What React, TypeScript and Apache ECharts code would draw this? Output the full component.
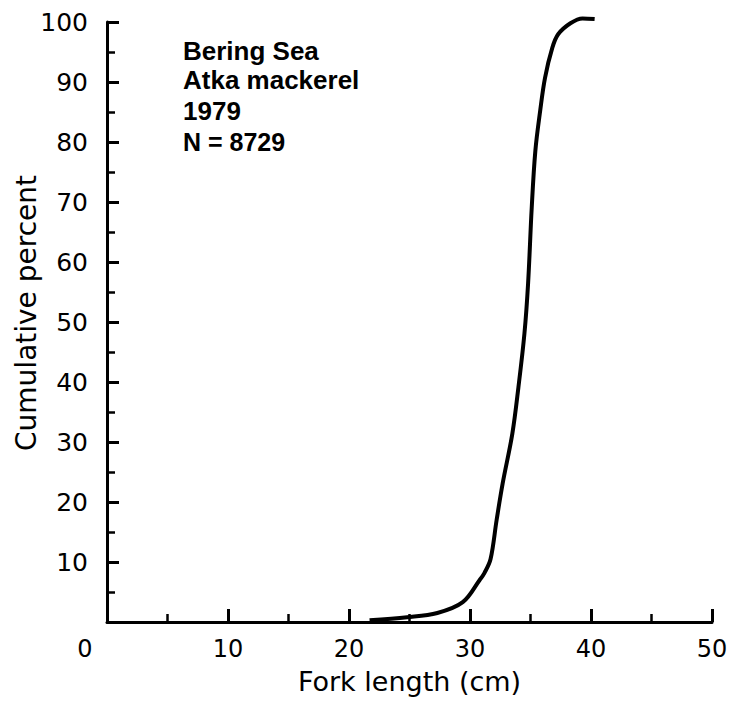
import React, { useEffect, useRef } from "react";
import * as echarts from "echarts";

// Fork length (cm) and cumulative percent
const forkLength = [21.7, 24.8, 27.3, 29.4, 30.8, 31.2, 31.7, 32.2, 32.7, 33.5, 34.0, 34.5, 34.8, 35.1, 35.4, 35.8, 36.2, 36.8, 37.3, 38.3, 39.3, 40.3];
const cumulativePercent = [0.3, 0.8, 1.5, 3.3, 7.0, 8.2, 10.5, 17.0, 23.1, 31.4, 39.1, 48.1, 56.4, 69.0, 78.5, 85.2, 90.7, 95.7, 98.0, 99.8, 100.6, 100.5];

const xTicks = [0, 10, 20, 30, 40, 50];
const yTicks = [10, 20, 30, 40, 50, 60, 70, 80, 90, 100];

const annotationLines = ["Bering Sea", "Atka mackerel", "1979", "N = 8729"];
const annotationY = [50.7, 79.7, 110.7, 141.7];

export default function App() {
  const ref = useRef<HTMLDivElement>(null);
  useEffect(() => {
    if (!ref.current) return;
    const chart = echarts.init(ref.current, undefined, { renderer: "svg" });
    const axisColor = "#000";
    chart.setOption({
      animation: false,
      backgroundColor: "#fff",
      grid: { left: 107, right: 20, top: 22, bottom: 79, containLabel: false, outerBoundsMode: "none" },
      xAxis: {
        type: "value",
        min: 0,
        max: 50,
        interval: 10,
        name: "Fork length (cm)",
        nameLocation: "middle",
        nameGap: 48,
        nameMoveOverlap: false,
        nameTextStyle: { fontFamily: "DejaVu Sans", fontSize: 27, lineHeight: 22, color: "#000" },
        axisLine: { show: true, lineStyle: { color: axisColor, width: 3 } },
        axisTick: { show: true, inside: true, length: 13, lineStyle: { color: axisColor, width: 3 } },
        minorTick: { show: true, splitNumber: 2, length: 8, lineStyle: { color: axisColor, width: 2.5 } },
        splitLine: { show: false },
        axisLabel: {
          margin: 17,
          fontFamily: "DejaVu Sans",
          fontSize: 24,
          lineHeight: 20,
          color: "#000",
          formatter: (v: number) => (xTicks.includes(v) ? (v === 0 ? "{z|0}" : String(v)) : ""),
          rich: {
            z: { fontFamily: "DejaVu Sans", fontSize: 24, lineHeight: 20, color: "#000", padding: [0, 44, 0, 0] },
          },
        },
      },
      yAxis: {
        type: "value",
        min: 0,
        max: 100,
        interval: 10,
        name: "Cumulative percent",
        nameLocation: "middle",
        nameGap: 67,
        nameMoveOverlap: false,
        nameTextStyle: { fontFamily: "DejaVu Sans", fontSize: 28, color: "#000", padding: [0, 0, 0, 18] },
        axisLine: { show: true, lineStyle: { color: axisColor, width: 3 } },
        axisTick: { show: true, inside: true, length: 12, lineStyle: { color: axisColor, width: 3 } },
        minorTick: { show: true, splitNumber: 2, length: 8, lineStyle: { color: axisColor, width: 2.5 } },
        splitLine: { show: false },
        axisLabel: {
          margin: 19,
          fontFamily: "DejaVu Sans",
          fontSize: 25,
          color: "#000",
          formatter: (v: number) => (yTicks.includes(v) ? String(v) : ""),
        },
      },
      graphic: annotationLines.map((t, i) => ({
        type: "text",
        x: 183,
        y: annotationY[i],
        style: {
          text: t,
          fontFamily: "Liberation Sans",
          fontWeight: "bold",
          fontSize: i === 3 ? 25 : 26,
          fill: "#000",
          align: "left",
          verticalAlign: "middle",
        },
      })),
      series: [
        {
          type: "line",
          data: forkLength.map((x, i) => [x, cumulativePercent[i]]),
          smooth: 0.35,
          showSymbol: false,
          clip: false,
          lineStyle: { color: "#000", width: 4 },
        },
      ],
    });
    return () => chart.dispose();
  }, []);
  return (
    <div
      ref={ref}
      style={{ position: "fixed", left: 0, top: 0, width: 732, height: 701, background: "#fff" }}
    />
  );
}
